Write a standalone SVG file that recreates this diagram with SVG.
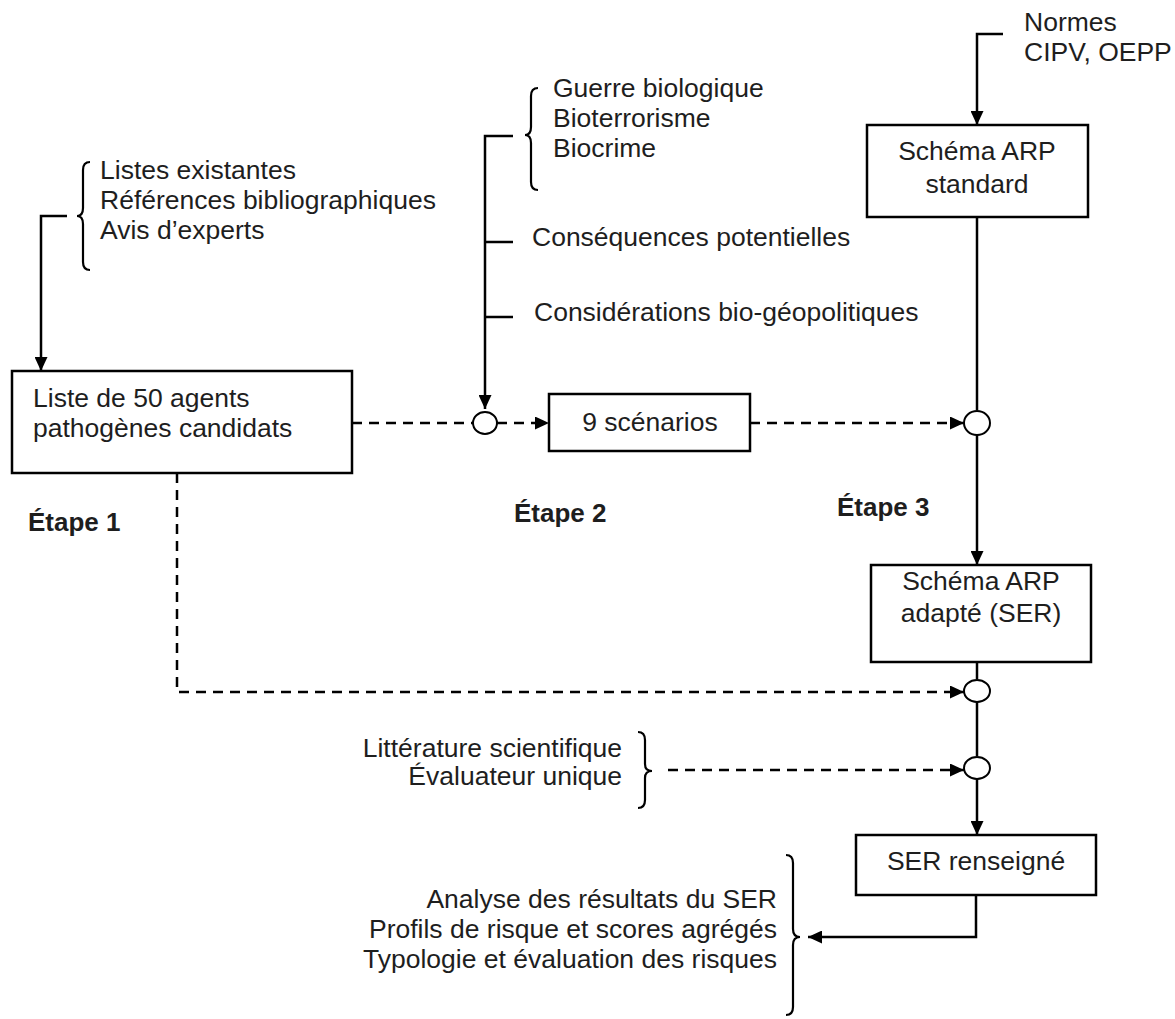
<svg xmlns="http://www.w3.org/2000/svg" width="1175" height="1019" viewBox="0 0 1175 1019">
<style>
text{font-family:"Liberation Sans",Arial,sans-serif;font-size:26.5px;fill:#1e1e1e}
.b{font-weight:bold;font-size:26px}
.box{fill:#fff;stroke:#000;stroke-width:2.5}
.ln{fill:none;stroke:#000;stroke-width:2.5}
.dash{fill:none;stroke:#000;stroke-width:2.5;stroke-dasharray:10 7}
.br{fill:none;stroke:#000;stroke-width:2.2}
.jn{fill:#fff;stroke:#000;stroke-width:2}
.m{text-anchor:middle}
.e{text-anchor:end}
</style>
<defs>
<marker id="ah" markerUnits="userSpaceOnUse" markerWidth="14" markerHeight="13" refX="14" refY="6.5" orient="auto">
<path d="M0,0 L14,6.5 L0,13 z" fill="#000"/>
</marker>
</defs>
<g id="connectors">
<path class="ln" d="M67,216 H41 V371" marker-end="url(#ah)"/>
<path class="ln" d="M513,136 H485 V409" marker-end="url(#ah)"/>
<path class="ln" d="M485,242 H513 M485,317 H513"/>
<path class="ln" d="M1003,34 H977 V125" marker-end="url(#ah)"/>
<path class="ln" d="M977,217 V410"/>
<path class="ln" d="M977,435 V565" marker-end="url(#ah)"/>
<path class="ln" d="M977,662 V679"/>
<path class="ln" d="M977,702 V756"/>
<path class="ln" d="M977,779 V835" marker-end="url(#ah)"/>
<path class="ln" d="M976,895 V937 H808" marker-end="url(#ah)"/>
<path class="dash" d="M352,423 H473"/>
<path class="dash" d="M497,423 H549" marker-end="url(#ah)"/>
<path class="dash" d="M750,423 H964" marker-end="url(#ah)"/>
<path class="dash" d="M177,473 V692 H964" marker-end="url(#ah)"/>
<path class="dash" d="M668,770 H964" marker-end="url(#ah)"/>
</g>
<g id="junctions">
<ellipse class="jn" cx="485" cy="423" rx="12" ry="11"/>
<ellipse class="jn" cx="977" cy="423" rx="13" ry="12"/>
<ellipse class="jn" cx="977" cy="691" rx="13" ry="11"/>
<ellipse class="jn" cx="977" cy="768" rx="13" ry="11"/>
</g>
<g id="sources-listes">
<path class="br" d="M90,162 Q83,162 83,170 L83,208 Q83,216 77,216 Q83,216 83,224 L83,262 Q83,270 90,270"/>
<text x="100" y="179">Listes existantes</text>
<text x="100" y="209">Références bibliographiques</text>
<text x="100" y="239">Avis d’experts</text>
</g>
<g id="sources-menaces">
<path class="br" d="M538,88 Q531,88 531,96 L531,127 Q531,135 525,135 Q531,135 531,143 L531,182 Q531,190 538,190"/>
<text x="553" y="97">Guerre biologique</text>
<text x="553" y="127">Bioterrorisme</text>
<text x="553" y="157">Biocrime</text>
<text x="532" y="246">Conséquences potentielles</text>
<text x="534" y="321">Considérations bio-géopolitiques</text>
</g>
<g id="normes">
<text x="1024" y="31">Normes</text>
<text x="1024" y="61">CIPV, OEPP</text>
</g>
<g id="liste">
<rect class="box" x="12" y="371" width="340" height="102"/>
<text x="33" y="407">Liste de 50 agents</text>
<text x="33" y="437">pathogènes candidats</text>
</g>
<g id="scenarios">
<rect class="box" x="549" y="394" width="201" height="57"/>
<text class="m" x="650" y="431">9 scénarios</text>
</g>
<g id="arp-standard">
<rect class="box" x="867" y="125" width="221" height="92"/>
<text class="m" x="977" y="160">Schéma ARP</text>
<text class="m" x="977" y="193">standard</text>
</g>
<g id="arp-adapte">
<rect class="box" x="871" y="565" width="220" height="97"/>
<text class="m" x="981" y="590">Schéma ARP</text>
<text class="m" x="981" y="622">adapté (SER)</text>
</g>
<g id="ser-renseigne">
<rect class="box" x="856" y="835" width="240" height="60"/>
<text class="m" x="976" y="870">SER renseigné</text>
</g>
<g id="evaluation">
<path class="br" d="M638,732 Q645,732 645,740 L645,764 Q645,771 652,771 Q645,771 645,778 L645,800 Q645,808 638,808"/>
<text class="e" x="622" y="757">Littérature scientifique</text>
<text class="e" x="622" y="785">Évaluateur unique</text>
</g>
<g id="resultats">
<path class="br" d="M786,855 Q793,855 793,863 L793,929 Q793,937 800,937 Q793,937 793,945 L793,1007 Q793,1015 786,1015"/>
<text class="e" x="777" y="908">Analyse des résultats du SER</text>
<text class="e" x="777" y="938">Profils de risque et scores agrégés</text>
<text class="e" x="777" y="968">Typologie et évaluation des risques</text>
</g>
<g id="etapes">
<text class="b" x="28" y="531">Étape 1</text>
<text class="b" x="514" y="522">Étape 2</text>
<text class="b" x="837" y="516">Étape 3</text>
</g>
</svg>
